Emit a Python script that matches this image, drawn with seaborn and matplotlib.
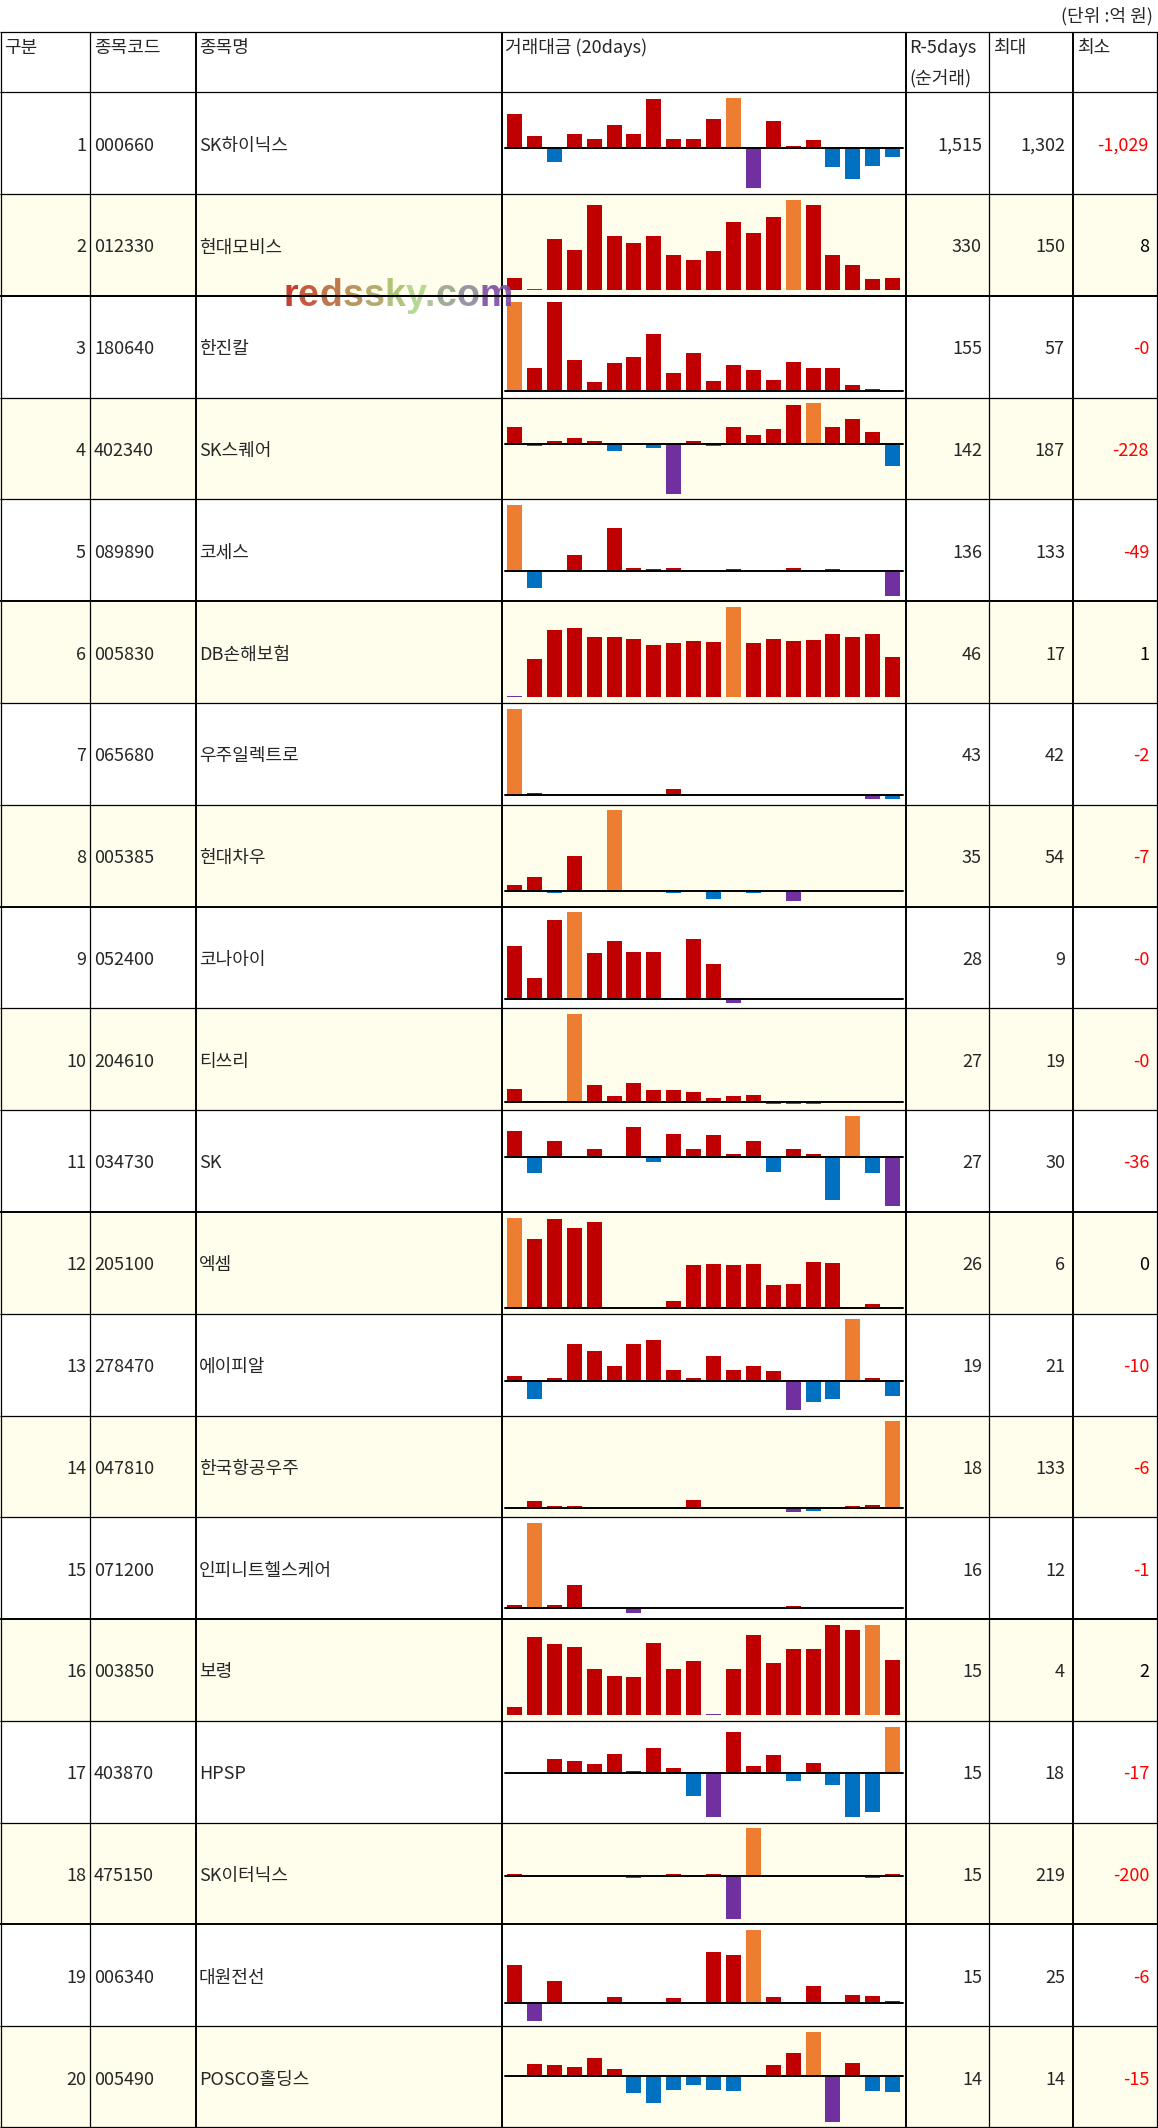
import matplotlib
matplotlib.use('Agg')
import matplotlib.pyplot as plt
import seaborn as sns
import numpy as np
import pandas as pd
from matplotlib.patches import Rectangle
from matplotlib.lines import Line2D

sns.set_style('white')
plt.rcParams['font.family'] = ['Noto Sans CJK KR', 'DejaVu Sans']

# ---------------- data (단위: 억 원) ----------------
ranks = list(range(1, 21))
codes = ['000660', '012330', '180640', '402340', '089890', '005830', '065680', '005385', '052400', '204610',
         '034730', '205100', '278470', '047810', '071200', '003850', '403870', '475150', '006340', '005490']
names = ['SK하이닉스', '현대모비스', '한진칼', 'SK스퀘어', '코세스', 'DB손해보험', '우주일렉트로', '현대차우', '코나아이', '티쓰리',
         'SK', '엑셈', '에이피알', '한국항공우주', '인피니트헬스케어', '보령', 'HPSP', 'SK이터닉스', '대원전선', 'POSCO홀딩스']
r5_net = [1515, 330, 155, 142, 136, 46, 43, 35, 28, 27, 27, 26, 19, 18, 16, 15, 15, 15, 15, 14]

# 20일 거래대금 (순거래) per stock
flow_01 = [888, 319, -345, 371, 241, 603, 371, 1276, 241, 241, 759, 1302, -1029, 707, 60, 216, -474, -784, -448, -216]
flow_02 = [25, 8, 88, 71, 141, 93, 81, 93, 62, 55, 68, 114, 98, 122, 150, 142, 63, 47, 24, 25]
flow_03 = [57, 14.6, 56.8, 20, 6.2, 17.8, 21.6, 36.4, 11.4, 24.2, 6.9, 16.5, 13.9, 7.5, 18.4, 14.6, 14.6, 4.3, 1.7, -0.3]
flow_04 = [80, -11, 15, 29, 15, -31, 0, -17, -228, 15, -11, 80, 43, 71, 178, 187, 80, 117, 57, -100]
flow_05 = [133, -33, 0, 32, 0, 86, 7, 5, 7, 0, 0, 5, 0, 0, 7, 0, 5, 0, 0, -49]
flow_06 = [1, 7.7, 12.9, 13.3, 11.6, 11.6, 11.3, 10.2, 10.6, 10.9, 10.8, 17, 10.6, 11.3, 10.9, 11.1, 12.2, 11.6, 12.2, 8.1]
flow_07 = [42, 1, 0, 0, 0, 0, 0, 0, 3, 0, 0, 0, 0, 0, 0, 0, 0, 0, -2, -1.8]
flow_08 = [3.4, 8.9, -2, 23, 0, 54, 0, 0, -2, 0, -6, 0, -2, 0, -7, 0, 0, 0, 0, 0]
flow_09 = [5.5, 2.2, 8.2, 9, 4.8, 6.0, 4.9, 4.9, 0, 6.2, 3.6, -0.35, 0, 0, 0, 0, 0, 0, 0, 0]
flow_10 = [2.8, 0.4, 0, 19, 3.7, 1.3, 4.1, 2.6, 2.6, 2.2, 0.9, 1.3, 1.5, -0.45, -0.35, -0.35, 0, 0, 0, 0]
flow_11 = [19, -12, 12, 0, 5.6, 0, 22, -4, 17, 5.6, 16, 2, 12, -11, 5.6, 2, -31.5, 30, -12, -36]
flow_12 = [6, 4.6, 5.93, 5.3, 5.7, 0, 0, 0, 0.45, 2.85, 2.9, 2.85, 2.9, 1.5, 1.6, 3.05, 3.0, 0, 0.3, 0]
flow_13 = [1.6, -6.2, 0.9, 12.6, 10.3, 4.9, 12.6, 14, 3.6, 0.9, 8.6, 3.6, 4.9, 3.2, -10, -7.2, -6.2, 21, 0.9, -5.1]
flow_14 = [0, 10, 2.5, 2.5, 0, 0, 0, 0, 0, 12, 0, 0, 0, 0, -6, -5.5, 0, 2.5, 4, 133]
flow_15 = [0.4, 12, 0.4, 3.2, 0, 0, -0.75, 0, 0, 0, 0, 0, 0, 0, 0.25, 0, 0, 0, 0, 0]
flow_16 = [2.17, 3.73, 3.58, 3.51, 3.02, 2.86, 2.84, 3.6, 3.02, 3.2, 2.0, 3.0, 3.78, 3.15, 3.46, 3.46, 3.99, 3.89, 4.0, 3.22]
flow_17 = [0, 0, 5.6, 4.8, 3.6, 7.5, 0.9, 9.8, 2.1, -8.8, -17, 15.7, 2.8, 7.1, -3, 4, -4.5, -16.9, -15, 18]
flow_18 = [9, 0, 0, 0, 0, 0, -12, 0, 9, 0, 9, -200, 219, 0, 0, 0, 0, 0, -12, 9]
flow_19 = [13, -6, 7.5, 0, 0, 2, 0, 0, 1.6, 0, 17.4, 16.4, 25, 2, 0, 5.7, 0, 2.6, 2.3, 0.6]
flow_20 = [0, 3.6, 3.3, 2.9, 5.5, 2, -5.5, -8.8, -4.6, -2.9, -4.6, -4.9, 0, 3.3, 7.2, 14, -15, 3.9, -4.9, -5.2]

flows = [flow_01, flow_02, flow_03, flow_04, flow_05, flow_06, flow_07, flow_08, flow_09, flow_10,
         flow_11, flow_12, flow_13, flow_14, flow_15, flow_16, flow_17, flow_18, flow_19, flow_20]

header_labels = ['구분', '종목코드', '종목명', '거래대금 (20days)', 'R-5days', '최대', '최소']

# ---------------- layout (pixels) ----------------
W, H = 1158, 2128
HEAD_TOP, HEAD_BOT = 31.7, 92.3
ROW_H = (H - HEAD_BOT) / 20
col_x = [0.5, 90.3, 195.7, 502, 906, 989.3, 1073, 1157]
thick_cols = {195.7, 502, 906, 1073}
thick_rows = {2, 5, 8, 11, 15, 18}

RED, ORANGE, BLUE, PURPLE = '#C00000', '#ED7D31', '#0070C0', '#7030A0'
CREAM = '#FFFDEB'
FS = 13

fig = plt.figure(figsize=(W / 100, H / 100), dpi=100)
ax = fig.add_axes([0, 0, 1, 1])
ax.set_xlim(0, W)
ax.set_ylim(H, 0)
ax.set_axis_off()

# row shading
for i in range(20):
    top = HEAD_BOT + i * ROW_H
    if i % 2 == 1:
        ax.add_patch(Rectangle((0, top), W, ROW_H, facecolor=CREAM, edgecolor='none', zorder=0))

# grid lines
ax.hlines(HEAD_TOP, 0, W, color='black', lw=0.9, zorder=3)
ax.hlines(HEAD_BOT, 0, W, color='black', lw=0.9, zorder=3)
for k in range(1, 21):
    y = min(HEAD_BOT + k * ROW_H, H - 0.7)
    ax.hlines(y, 0, W, color='black', lw=1.4 if k in thick_rows else 0.9, zorder=3)
for x in col_x:
    ax.vlines(x, HEAD_TOP, H, color='black', lw=1.4 if x in thick_cols else 0.9, zorder=3)

# header
ax.text(1153, 21, '(단위 :억 원)', ha='right', va='baseline', fontsize=FS)
head_x = [4.5, 94, 199, 505, 909, 993, 1077]
for x, lab in zip(head_x, header_labels):
    ax.text(x, 53, lab, ha='left', va='baseline', fontsize=FS)
ax.text(909, 83.5, '(순거래)', ha='left', va='baseline', fontsize=FS)

# body text
for i in range(20):
    base = HEAD_BOT + i * ROW_H + ROW_H / 2 + 7.4
    vals = np.asarray(flows[i], dtype=float)
    vmax, vmin = vals.max(), vals.min()
    ax.text(86, base, str(ranks[i]), ha='right', va='baseline', fontsize=FS)
    ax.text(94, base, codes[i], ha='left', va='baseline', fontsize=FS)
    ax.text(199, base, names[i], ha='left', va='baseline', fontsize=FS)
    ax.text(982, base, f'{r5_net[i]:,}', ha='right', va='baseline', fontsize=FS)
    ax.text(1065, base, f'{vmax:,.0f}', ha='right', va='baseline', fontsize=FS)
    min_txt = f'{vmin:,.0f}'
    ax.text(1149, base, min_txt, ha='right', va='baseline', fontsize=FS,
            color='#FF0000' if min_txt.startswith('-') else 'black')


# sparklines
def draw_spark(sax, vals):
    vals = np.asarray(vals, dtype=float)
    i_max, i_min = int(np.argmax(vals)), int(np.argmin(vals))
    days = [f'd{j:02d}' for j in range(len(vals))]
    pal = {}
    for j, v in enumerate(vals):
        if j == i_max:
            pal[days[j]] = ORANGE
        elif j == i_min:
            pal[days[j]] = PURPLE
        elif v < 0:
            pal[days[j]] = BLUE
        else:
            pal[days[j]] = RED
    df = pd.DataFrame({'day': days, 'value': vals})
    sns.barplot(data=df, x='day', y='value', hue='day', palette=pal, legend=False,
                width=0.754, saturation=1, linewidth=0, errorbar=None, ax=sax)
    vmin, vmax = vals.min(), vals.max()
    if vmin <= 0:
        sax.set_ylim(vmin, vmax)
        sax.axhline(0, color='black', lw=1.4, zorder=5, clip_on=False)
    else:
        sax.set_ylim(vmin - (vmax - vmin) / 90, vmax)
    sax.set_xlim(-0.5, len(vals) - 0.5)
    sax.set_axis_off()


SP_L, SP_R, PAD = 504.6, 902.6, 5.7
for i in range(20):
    top = HEAD_BOT + i * ROW_H + PAD
    bot = HEAD_BOT + (i + 1) * ROW_H - PAD
    sax = fig.add_axes([SP_L / W, 1 - bot / H, (SP_R - SP_L) / W, (bot - top) / H])
    draw_spark(sax, flows[i])

# watermark
wm_text = 'redssky.com'
wm_colors = ['#BE281E', '#C04A2C', '#B8683C', '#B4884C', '#ACA262', '#A8BE6C',
             '#B0D48A', '#A8C090', '#98A48C', '#8E8A9A', '#7C4CA2']
wm_left, wm_right, wm_base = 283, 513, 306
wm_font = 'Liberation Sans'
wm_size = 27
renderer = fig.canvas.get_renderer()


def text_w(s):
    t = fig.text(0, 0, s, fontsize=wm_size, fontweight='bold', family=wm_font)
    w = t.get_window_extent(renderer).width
    t.remove()
    return w


natural = text_w(wm_text)
track = max((wm_right - wm_left - natural) / (len(wm_text) - 1), 0.3)
for j, (ch, c) in enumerate(zip(wm_text, wm_colors)):
    x = wm_left + text_w(wm_text[:j + 1]) - text_w(ch) + j * track
    fig.text(x / W, 1 - wm_base / H, ch, fontsize=wm_size, fontweight='bold', family=wm_font,
             color=c, alpha=0.9, ha='left', va='baseline', zorder=10)

# the row separator shows through the watermark
y_sep = 1 - (HEAD_BOT + 2 * ROW_H) / H
fig.add_artist(Line2D([0, 1], [y_sep, y_sep], color='black', lw=1.4, zorder=11))

fig.savefig('out.png', dpi=100)
